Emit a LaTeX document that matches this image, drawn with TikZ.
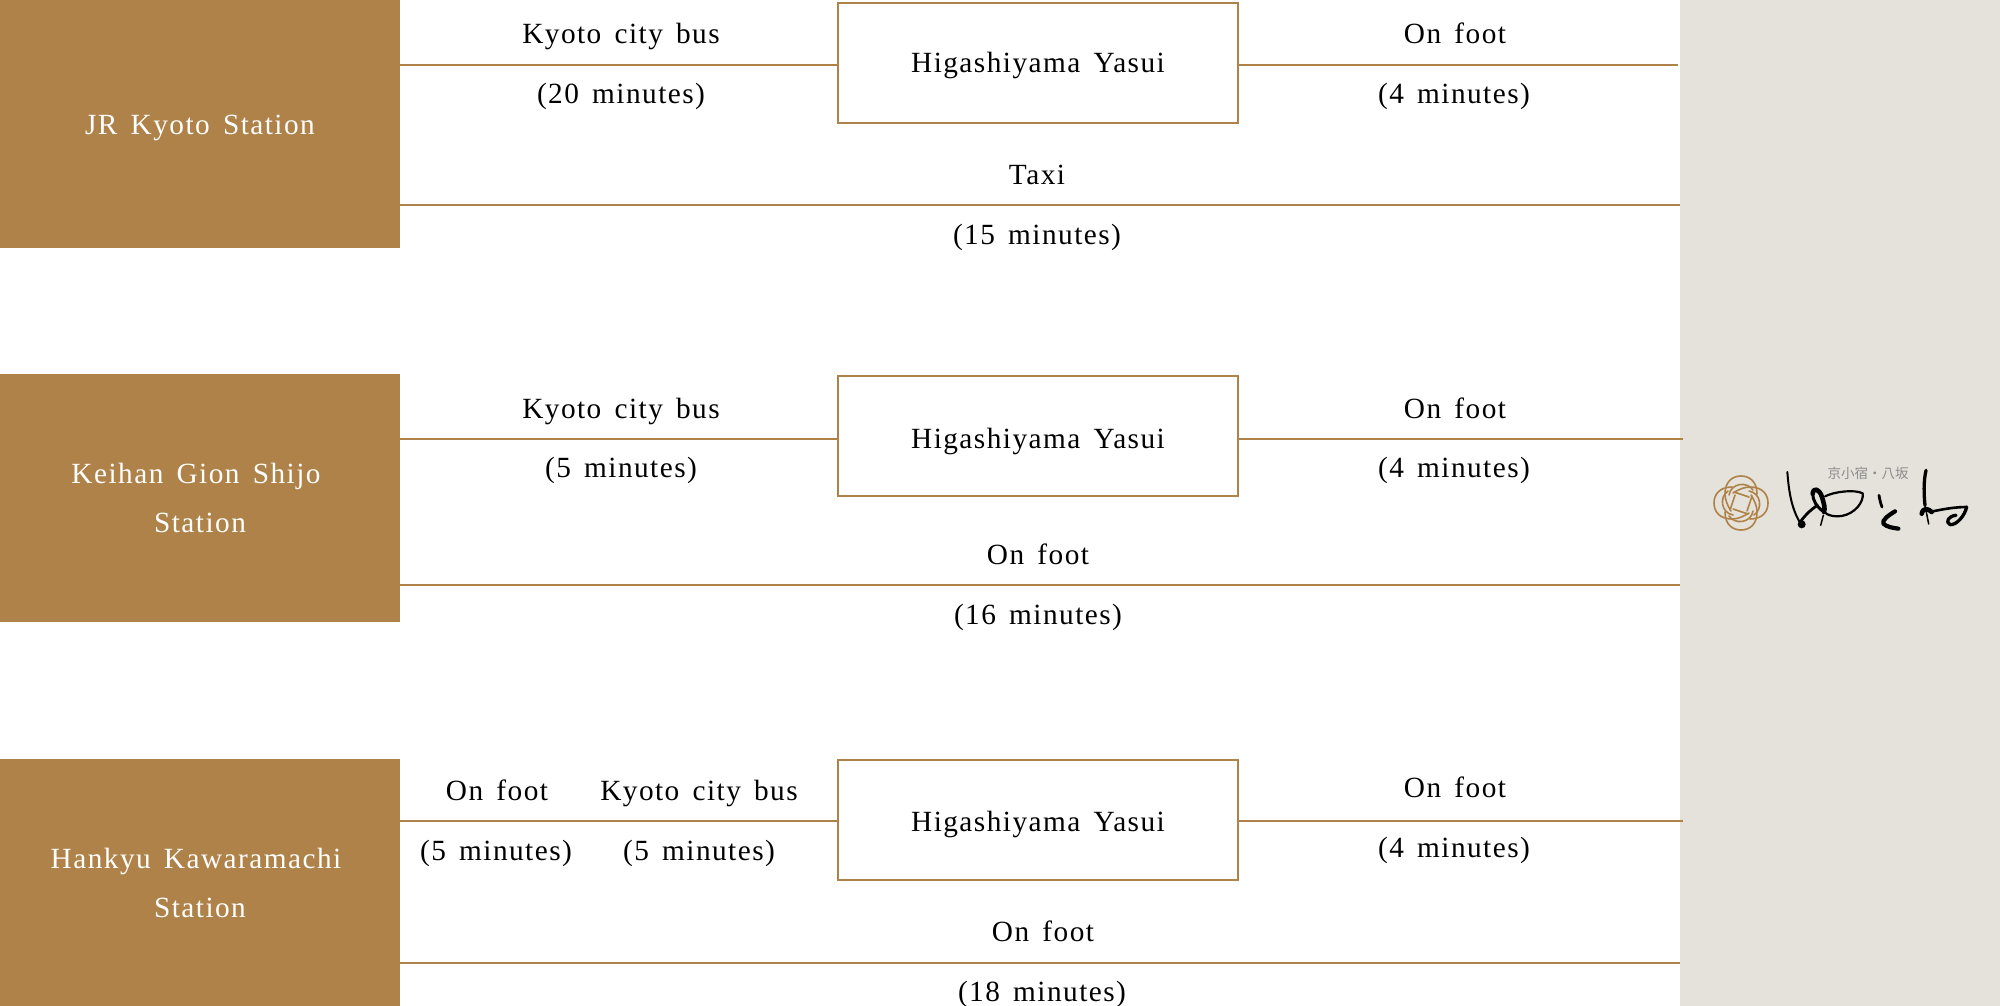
\documentclass[tikz,border=0pt]{standalone}
\usepackage{fontspec}
\setmainfont[LetterSpace=5,WordSpace=1.5]{Liberation Serif}
\newfontfamily\cjkf{Noto Sans CJK JP}
\definecolor{gold}{HTML}{AE8248}
\definecolor{panel}{HTML}{E5E2DB}
\tikzset{
 x=1pt,y=-1pt,
 txt/.style={font=\fontsize{29.3}{49}\selectfont},
 lab/.style={txt,inner sep=0pt,text=black,text height=25pt,text depth=6pt},
 stn/.style={txt,fill=gold,inner sep=0pt,minimum width=400pt,minimum height=248pt,text=white,align=center},
 hub/.style={txt,draw=gold,line width=2pt,fill=white,inner sep=0pt,minimum width=400pt,minimum height=120pt,text depth=6pt},
 link/.style={draw=gold,line width=2pt},
 brush/.style={draw=black,line cap=round,line join=round},
 knot/.style={draw=gold,line width=1.6pt,line cap=round},
}
\begin{document}
\begin{tikzpicture}
\useasboundingbox (0,0) rectangle (2000,1006);
\fill[white] (0,0) rectangle (2000,1006);
\fill[panel] (1680,0) rectangle (2000,1006);

\node[stn,text height=28pt,text depth=6pt] (s1) at (200,124) {JR Kyoto Station};
\node[stn] (s2) at (200,498) {Keihan Gion Shijo\hspace*{8pt}\\Station};
\node[stn] (s3) at (200,883) {Hankyu Kawaramachi\hspace*{8pt}\\Station};

\node[hub,text height=25pt] (h1) at (1038,63) {Higashiyama Yasui};
\node[hub,text height=30pt] (h2) at (1038,436) {Higashiyama Yasui};
\node[hub,text height=28pt] (h3) at (1038,820) {Higashiyama Yasui};

\coordinate (e1) at (1678,65);
\coordinate (e2) at (1683,439);
\coordinate (e3) at (1683,821);
\coordinate (t1) at (1680,204.5);
\coordinate (t2) at (1680,585);
\coordinate (t3) at (1680,963);
\coordinate (a1) at (400,65);
\coordinate (a2) at (400,439);
\coordinate (a3) at (400,821);
\coordinate (b1) at (400,204.5);
\coordinate (b2) at (400,585);
\coordinate (b3) at (400,963);

\draw[link] (a1) -- (a1-|h1.west);
\draw[link] (a1-|h1.east) -- (e1);
\draw[link] (b1) -- (t1);
\draw[link] (a2) -- (a2-|h2.west);
\draw[link] (a2-|h2.east) -- (e2);
\draw[link] (b2) -- (t2);
\draw[link] (a3) -- (a3-|h3.west);
\draw[link] (a3-|h3.east) -- (e3);
\draw[link] (b3) -- (t3);

\node[lab] (l1) at (621,34) {Kyoto city bus};
\node[lab] (l2) at (621,94) {(20 minutes)};
\node[lab] (l3) at (1455,34) {On foot};
\node[lab] (l4) at (1454,94) {(4 minutes)};
\node[lab] (l5) at (1037,175) {Taxi};
\node[lab] (l6) at (1037,235) {(15 minutes)};

\node[lab] (m1) at (621,409) {Kyoto city bus};
\node[lab] (m2) at (621,468) {(5 minutes)};
\node[lab] (m3) at (1455,409) {On foot};
\node[lab] (m4) at (1454,468) {(4 minutes)};
\node[lab] (m5) at (1038,555) {On foot};
\node[lab] (m6) at (1038,615) {(16 minutes)};

\node[lab] (n1) at (497,791) {On foot};
\node[lab] (n2) at (496,851) {(5 minutes)};
\node[lab] (n3) at (699,791) {Kyoto city bus};
\node[lab] (n4) at (699,851) {(5 minutes)};
\node[lab] (n5) at (1455,788) {On foot};
\node[lab] (n6) at (1454,848) {(4 minutes)};
\node[lab] (n7) at (1043,932) {On foot};
\node[lab] (n8) at (1042,992) {(18 minutes)};

% logo emblem: four lobes and an inner pinwheel
\begin{scope}[shift={(1741,503)}]
 \foreach \ang in {0,90,180,270}{
  \begin{scope}[rotate=\ang]
   \draw[knot] (-10,8) .. controls (-14,2) and (-16,-4) .. (-16,-9) .. controls (-16,-22) and (-8,-27) .. (0,-27) .. controls (8,-27) and (16,-22) .. (16,-9);
   \draw[knot] (-12,-8) .. controls (-10,-20) and (6,-22) .. (12,-13);
   \draw[knot] (-7,-11) -- (8,-6);
  \end{scope}
 }
\end{scope}
% logo lettering
\node[inner sep=0pt,text=black!45,font=\cjkf\fontsize{13.5}{14}\selectfont] (logotext) at (1868,473) {京小宿・八坂};
% calligraphy, traced in 3x crop coordinates
\begin{scope}[shift={(1780,462)},x=0.3333pt,y=-0.3333pt]
 \draw[brush,line width=2pt] (22,30) .. controls (26,80) and (32,140) .. (65,190);
 \fill (65,187) circle[radius=12];
 \draw[brush,line width=2.8pt] (62,178) .. controls (75,160) and (90,145) .. (112,130);
 \draw[brush,line width=4.6pt] (98,95) .. controls (100,75) and (118,80) .. (126,105) .. controls (132,125) and (136,140) .. (132,150);
 \draw[brush,line width=3pt] (98,95) .. controls (98,115) and (110,135) .. (132,150);
 \draw[brush,line width=2.2pt] (135,103) .. controls (165,88) and (225,82) .. (248,94) .. controls (252,120) and (225,155) .. (185,162) .. controls (165,165) and (145,162) .. (132,150);
 \draw[brush,line width=1.5pt] (130,160) -- (122,190);
\end{scope}
\begin{scope}[shift={(1880,462)},x=0.3333pt,y=-0.3333pt]
 \draw[brush,line width=2.8pt] (-3,100) .. controls (-1,112) and (2,125) .. (6,135);
 \draw[brush,line width=4.2pt] (45,148) .. controls (25,160) and (5,175) .. (10,185) .. controls (20,195) and (40,198) .. (55,200);
 \draw[brush,line width=3.3pt] (138,25) .. controls (130,60) and (132,100) .. (135,130);
 \draw[brush,line width=1.5pt] (135,130) -- (146,186);
 \draw[brush,line width=4.6pt] (125,155) .. controls (130,135) and (145,140) .. (155,150);
 \draw[brush,line width=2.6pt] (150,150) .. controls (185,142) and (225,135) .. (260,135);
 \draw[brush,line width=3.3pt] (260,135) .. controls (255,160) and (230,190) .. (210,188) .. controls (195,180) and (205,162) .. (228,160);
\end{scope}
\end{tikzpicture}
\end{document}
